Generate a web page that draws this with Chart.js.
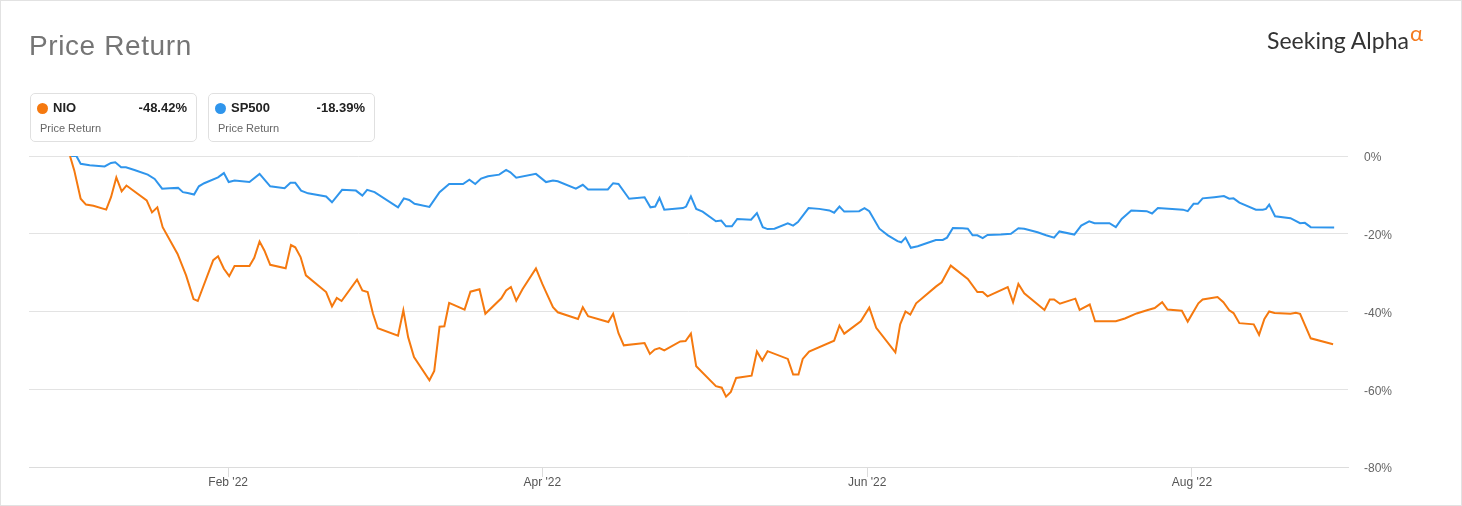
<!DOCTYPE html>
<html lang="en">
<head>
    <meta charset="UTF-8">
    <title>Price Return</title>
    <script src="https://cdn.jsdelivr.net/npm/chart.js"></script>
    <style>
        body {
            margin: 0;
            font-family: 'Liberation Sans', Arial, sans-serif;
            background: #fff;
        }
        .frame {
            position: relative;
            width: 1462px;
            height: 506px;
            border: 1px solid #e2e2e2;
            box-sizing: border-box;
            overflow: hidden;
        }
        canvas {
            position: absolute;
            left: 0;
            top: 0;
        }
        .title {
            position: absolute;
            left: 28px;
            top: 31px;
            font-size: 28px;
            line-height: 1;
            color: #757575;
            letter-spacing: 0.6px;
        }
        .logo {
            position: absolute;
            left: 1266px;
            top: 28px;
            font-family: Lato, 'Open Sans', sans-serif;
            font-size: 23px;
            line-height: 1;
            color: #333;
        }
        .logo .alpha {
            position: absolute;
            left: 143px;
            top: -7px;
            font-size: 22px;
            color: #f47b20;
        }
        .card {
            position: absolute;
            top: 92px;
            width: 167px;
            height: 49px;
            border: 1px solid #e0e0e0;
            border-radius: 5px;
            box-sizing: border-box;
        }
        .card .dot {
            position: absolute;
            left: 6px;
            top: 9px;
            width: 11px;
            height: 11px;
            border-radius: 50%;
        }
        .card .name, .card .value {
            position: absolute;
            top: 7px;
            font-size: 13px;
            font-weight: bold;
            color: #222;
            line-height: 1;
        }
        .card .name { left: 22px; }
        .card .value { right: 9px; }
        .card .sub {
            position: absolute;
            left: 9px;
            top: 29px;
            font-size: 11px;
            color: #666;
            line-height: 1;
        }
    </style>
</head>
<body>
<div class="frame">
    <canvas id="returnChart" width="1462" height="506"></canvas>
    <div class="title">Price Return</div>
    <div class="logo">Seeking Alpha<span class="alpha">&alpha;</span></div>
    <div class="card" style="left:29px">
        <span class="dot" style="background:#f5790f"></span>
        <span class="name">NIO</span>
        <span class="value">-48.42%</span>
        <span class="sub">Price Return</span>
    </div>
    <div class="card" style="left:207px">
        <span class="dot" style="background:#2f95ec"></span>
        <span class="name">SP500</span>
        <span class="value">-18.39%</span>
        <span class="sub">Price Return</span>
    </div>
</div>

<script>
    // x values are days of 2022 (0 = Jan 1)
    const spDays = [1.5, 2.5, 3.3, 5.0, 7.8, 9.0, 9.8, 10.9, 11.8, 13.4, 15.9, 17.2, 18.6, 20.0, 21.6, 22.5, 23.4, 24.6, 25.5, 26.5,
        29.1, 30.2, 31.1, 32.2, 35.0, 36.9, 38.9, 41.6, 42.7, 43.6, 44.7, 46.0, 49.4, 50.5, 52.4, 55.0, 56.2, 57.1, 58.5, 62.9,
        64.0, 65.0, 66.0, 68.8, 70.7, 72.5, 75.1, 76.3, 77.4, 78.5, 79.8, 81.9, 83.2, 84.0, 85.1, 88.8, 90.7, 92.0, 92.9, 96.3,
        97.6, 98.6, 102.3, 103.3, 104.3, 106.3, 109.2, 110.3, 111.2, 112.0, 112.9, 116.4, 117.0, 117.9, 118.9, 120.1, 122.6, 123.6, 124.5, 125.6,
        126.6, 129.2, 130.3, 131.4, 132.3, 133.6, 136.1, 137.1, 138.0, 140.0, 142.0, 143.9, 144.8, 145.8, 146.7, 149.5, 150.5, 151.4, 153.3, 154.9,
        156.7, 157.4, 158.2, 159.2, 160.5, 162.4, 163.9, 165.2, 166.0, 167.1, 168.9, 169.9, 170.8, 171.7, 172.7, 173.6, 176.1, 178.0, 179.4, 180.5,
        183.0, 184.6, 186.1, 187.1, 189.9, 191.2, 192.7, 193.7, 196.5, 197.7, 198.8, 200.6, 203.5, 204.5, 205.6, 210.3, 211.2, 212.3, 213.1, 214.0,
        216.2, 218.0, 219.0, 219.8, 220.9, 224.0, 225.3, 225.9, 226.5, 227.6, 230.5, 232.3, 233.2, 234.3, 238.7];
    const spValues = [0, 0, -2.0, -2.4, -2.7, -1.8, -1.6, -2.9, -2.9, -3.6, -4.8, -5.9, -8.4, -8.3, -8.2, -9.3, -9.5, -9.9, -7.8, -7.0,
        -5.5, -4.4, -6.7, -6.3, -6.7, -4.6, -7.8, -8.3, -6.9, -6.9, -8.9, -9.6, -10.4, -11.9, -8.7, -8.9, -10.2, -8.7, -9.3, -13.2,
        -10.9, -11.3, -12.3, -13.1, -9.3, -7.2, -7.2, -6.1, -7.2, -5.8, -5.2, -4.8, -3.6, -4.2, -5.6, -4.6, -6.7, -6.3, -6.5, -8.4,
        -7.4, -8.6, -8.6, -7.0, -7.2, -11.0, -10.6, -13.2, -13.0, -10.8, -13.8, -13.4, -13.0, -10.4, -13.6, -14.3, -16.8, -16.6, -18.1, -18.1,
        -16.2, -16.4, -14.7, -18.3, -18.8, -18.7, -17.3, -17.9, -17.0, -13.4, -13.6, -14.0, -14.6, -13.0, -14.3, -14.2, -13.4, -14.2, -18.7, -20.4,
        -21.9, -22.2, -21.0, -23.6, -23.2, -22.3, -21.6, -21.6, -21.0, -18.5, -18.6, -18.7, -20.4, -20.4, -21.1, -20.3, -20.2, -20.0, -18.6, -18.7,
        -19.6, -20.4, -21.0, -19.4, -20.2, -17.9, -16.8, -17.3, -17.3, -18.3, -16.2, -14.0, -14.2, -14.8, -13.4, -13.8, -14.2, -12.3, -12.3, -10.9,
        -10.6, -10.3, -11.0, -10.9, -12.0, -13.8, -13.8, -13.6, -12.5, -15.5, -16.0, -17.3, -17.2, -18.3, -18.39];

    const nioDays = [1.3, 2.1, 3.3, 4.3, 5.7, 8.1, 9.0, 10.0, 11.0, 11.9, 15.7, 16.7, 17.7, 18.7, 21.5, 23.1, 24.5, 25.3, 28.2, 29.1,
        30.2, 31.2, 32.2, 35.0, 35.9, 36.9, 37.8, 38.9, 41.8, 42.8, 43.6, 44.6, 45.6, 49.4, 50.5, 51.4, 52.3, 55.2, 56.2, 57.2,
        58.2, 59.1, 62.9, 63.9, 64.8, 65.9, 68.8, 69.7, 70.7, 71.6, 72.5, 75.4, 76.5, 78.2, 79.3, 82.3, 83.2, 84.1, 85.1, 86.3,
        88.8, 90.0, 90.7, 92.0, 92.9, 96.7, 97.6, 98.6, 102.4, 103.3, 104.3, 105.3, 109.2, 110.2, 111.1, 112.0, 112.9, 115.9, 116.9, 117.9,
        118.9, 122.6, 123.7, 124.5, 125.4, 126.4, 129.3, 130.3, 131.3, 132.3, 136.1, 137.1, 138.1, 138.9, 140.1, 144.8, 145.8, 146.7, 149.8, 151.4,
        152.7, 156.3, 157.2, 158.2, 159.1, 160.2, 163.9, 165.0, 166.7, 169.9, 171.7, 172.7, 173.6, 177.4, 178.4, 179.4, 180.5, 184.3, 185.3, 186.1,
        187.2, 190.1, 190.9, 192.8, 193.8, 197.7, 199.4, 201.6, 203.7, 205.0, 206.4, 207.4, 210.1, 211.2, 213.2, 214.0, 216.8, 217.9, 219.0, 219.8,
        220.9, 223.6, 224.6, 225.6, 226.5, 227.5, 230.5, 231.5, 232.3, 234.3, 238.5];
    const nioValues = [0, -3.7, -11.0, -12.5, -12.8, -13.8, -10.6, -5.5, -9.1, -7.6, -11.4, -14.5, -13.2, -18.3, -25.2, -30.7, -36.8, -37.3, -26.8, -25.8,
        -29.0, -30.9, -28.3, -28.3, -26.2, -22.0, -24.3, -28.0, -28.9, -22.9, -23.5, -26.0, -30.7, -35.0, -38.7, -36.5, -37.3, -31.8, -34.6, -35.0,
        -40.6, -44.3, -46.2, -39.7, -46.6, -51.7, -57.7, -55.3, -43.9, -43.8, -37.8, -39.5, -34.9, -34.3, -40.6, -36.6, -34.6, -33.7, -37.2, -34.2,
        -28.9, -32.9, -35.0, -38.9, -40.2, -41.9, -38.9, -41.2, -42.7, -40.6, -45.6, -48.7, -48.1, -50.9, -49.8, -49.4, -50.0, -47.7, -47.6, -45.7,
        -54.1, -59.2, -59.6, -61.9, -60.7, -57.1, -56.5, -50.3, -52.6, -50.2, -52.2, -56.2, -56.2, -52.2, -50.3, -47.5, -43.6, -45.7, -42.5, -39.0,
        -44.2, -50.5, -43.3, -40.0, -40.8, -37.9, -33.6, -32.5, -28.2, -31.6, -35.0, -35.0, -36.1, -33.7, -37.6, -32.9, -35.3, -39.6, -36.9, -36.9,
        -38.0, -36.7, -39.6, -38.2, -42.5, -42.5, -41.8, -40.5, -39.6, -39.1, -37.6, -39.5, -39.8, -42.6, -37.9, -36.9, -36.3, -37.6, -39.7, -40.4,
        -43.0, -43.3, -46.0, -41.9, -40.0, -40.4, -40.6, -40.3, -40.6, -46.9, -48.42];

    const tickDays = [31, 90, 151, 212];
    const tickLabels = ["Feb '22", "Apr '22", "Jun '22", "Aug '22"];
    const yTicks = [0, -20, -40, -60, -80];

    const toPoints = (xs, ys) => xs.map((x, i) => ({ x: x, y: ys[i] }));

    Chart.defaults.font.family = "'Liberation Sans', Arial, sans-serif";

    const ctx = document.getElementById('returnChart').getContext('2d');
    new Chart(ctx, {
        type: 'line',
        data: {
            datasets: [
                {
                    label: 'SP500',
                    data: toPoints(spDays, spValues),
                    borderColor: '#2f95ec',
                    borderWidth: 2,
                    pointRadius: 0,
                    tension: 0
                },
                {
                    label: 'NIO',
                    data: toPoints(nioDays, nioValues),
                    borderColor: '#f5790f',
                    borderWidth: 2,
                    pointRadius: 0,
                    tension: 0
                }
            ]
        },
        options: {
            responsive: false,
            animation: false,
            layout: { padding: { left: 28, top: 155, right: 0, bottom: 0 } },
            plugins: {
                legend: { display: false },
                tooltip: { enabled: false }
            },
            scales: {
                x: {
                    type: 'linear',
                    min: -6.4,
                    max: 241.3,
                    afterBuildTicks: scale => { scale.ticks = tickDays.map(v => ({ value: v })); },
                    afterFit: scale => { scale.height = 40; },
                    grid: { drawOnChartArea: false, tickLength: 10, color: '#dcdcdc' },
                    border: { color: '#dcdcdc' },
                    ticks: {
                        autoSkip: false,
                        maxRotation: 0,
                        padding: -2,
                        color: '#555',
                        font: { size: 12 },
                        callback: value => tickLabels[tickDays.indexOf(value)] || ''
                    }
                },
                y: {
                    position: 'right',
                    min: -80,
                    max: 0,
                    afterBuildTicks: scale => { scale.ticks = yTicks.map(v => ({ value: v })); },
                    afterFit: scale => { scale.width = 115; },
                    grid: { color: '#e3e3e3', drawTicks: false },
                    border: { display: false },
                    ticks: {
                        padding: 16,
                        labelOffset: 2,
                        color: '#666',
                        font: { size: 12 },
                        callback: value => value + '%'
                    }
                }
            }
        }
    });
</script>
</body>
</html>
